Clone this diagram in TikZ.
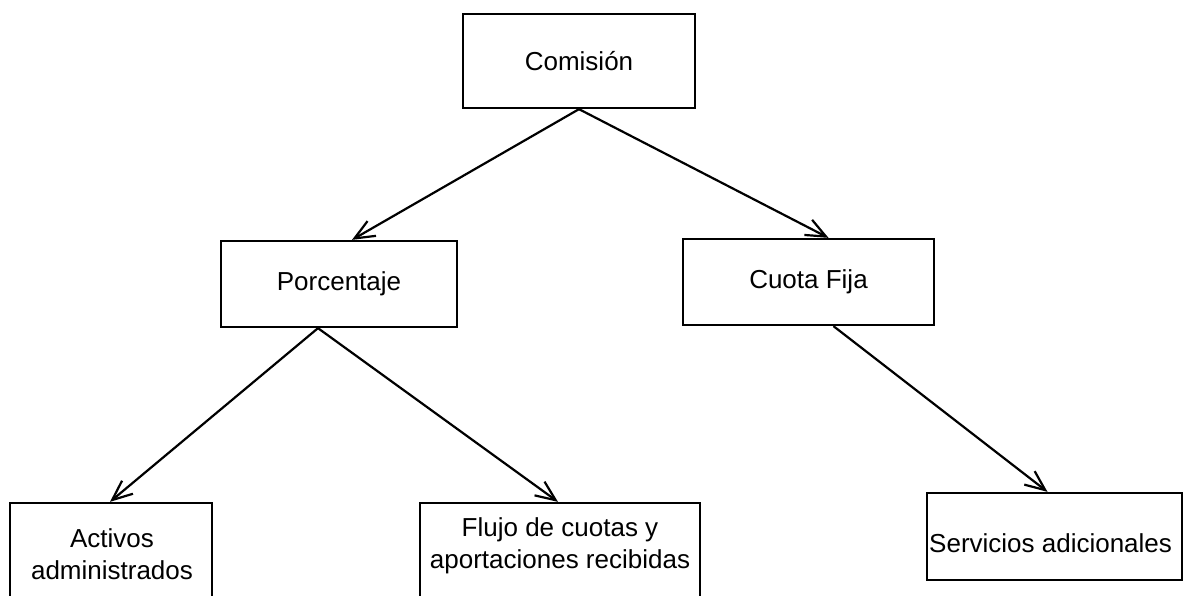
\documentclass[tikz,border=0pt]{standalone}
\usepackage{fontspec}
\setmainfont{Liberation Sans}
\usetikzlibrary{arrows.meta}
\begin{document}
\begin{tikzpicture}[x=1pt,y=-1pt,
  box/.style={draw=black, line width=2.3pt, rectangle, inner sep=0pt},
  lbl/.style={inner sep=0pt, font=\fontsize{26}{32}\selectfont, align=center},
  conn/.style={line width=2.2pt, -{Straight Barb[length=20pt,width=17pt,line width=2.2pt]}}]
\useasboundingbox (0,0) rectangle (1186,595);
\clip (0,0) rectangle (1186,595);
\node[box, lbl, minimum width=232pt, minimum height=94pt] (com) at (579,61) {Comisión};
\node[box, lbl, minimum width=236pt, minimum height=86pt] (por) at (339,284) {Porcentaje};
\node[box, lbl, minimum width=251pt, minimum height=86pt] (cuo) at (808.5,282) {Cuota Fija};
\node[box, minimum width=202pt, minimum height=110pt] (act) at (111,558) {};
\node[box, minimum width=280pt, minimum height=110pt] (flu) at (560,558) {};
\node[box, minimum width=255pt, minimum height=87pt] (ser) at (1054.5,536.5) {};
\node[lbl] (actt) at (112,554) {Activos\\administrados};
\node[lbl] (flut) at (560,546) {Flujo de cuotas y\\aportaciones recibidas};
\node[lbl, anchor=west] (sert) at (929,543) {Servicios adicionales};
\draw[conn] (com.south) -- ([xshift=13pt]por.north);
\draw[conn] (com.south) -- ([xshift=20pt]cuo.north);
\draw[conn] ([xshift=-21pt]por.south) -- ([xshift=-1pt]act.north);
\draw[conn] ([xshift=-21pt]por.south) -- ([xshift=-2pt]flu.north);
\draw[conn] ([xshift=25pt]cuo.south) -- ([xshift=-7pt]ser.north);
\end{tikzpicture}
\end{document}
